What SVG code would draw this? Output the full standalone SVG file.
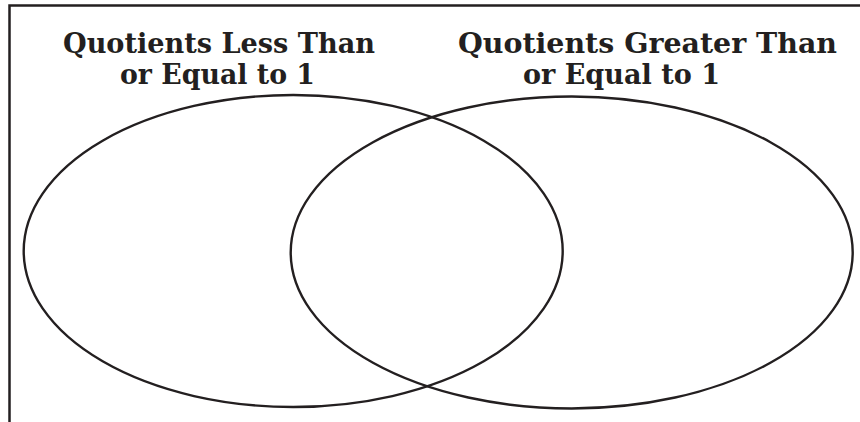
<svg xmlns="http://www.w3.org/2000/svg" width="860" height="422" viewBox="0 0 860 422">
  <style>
    .frame { fill: none; stroke: #231f20; stroke-width: 2.5; }
    .circle { fill: none; stroke: #231f20; stroke-width: 2.4; }
    .title { font-family: "DejaVu Serif", "Liberation Serif", serif; font-weight: bold; font-size: 28.5px; fill: #231f20; text-anchor: middle; }
  </style>
  <rect width="860" height="422" fill="#ffffff"/>
  <path class="frame" d="M9.5,422 V5.5 H860"/>
  <g id="less">
    <ellipse class="circle" cx="293.2" cy="251" rx="269.5" ry="156"/>
    <text class="title" x="219" y="52.5" textLength="312" lengthAdjust="spacingAndGlyphs">Quotients Less Than</text>
    <text class="title" x="217.5" y="83.5" textLength="195" lengthAdjust="spacingAndGlyphs">or Equal to 1</text>
  </g>
  <g id="greater">
    <ellipse class="circle" cx="571.7" cy="252.5" rx="281" ry="156"/>
    <text class="title" x="647.5" y="52.5" textLength="379" lengthAdjust="spacingAndGlyphs">Quotients Greater Than</text>
    <text class="title" x="621.5" y="83.5" textLength="197" lengthAdjust="spacingAndGlyphs">or Equal to 1</text>
  </g>
  <g id="connectors"></g>
</svg>
